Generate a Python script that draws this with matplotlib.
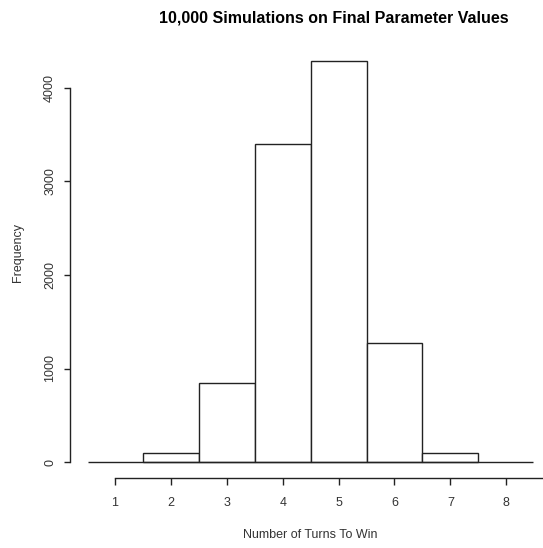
import matplotlib
matplotlib.use("Agg")
import matplotlib.pyplot as plt

turns = [2, 3, 4, 5, 6, 7]
freq = [100, 840, 3400, 4290, 1275, 95]
xticks = [1, 2, 3, 4, 5, 6, 7, 8]
yticks = [0, 1000, 2000, 3000, 4000]

plt.rcParams['font.family'] = ['Liberation Sans', 'DejaVu Sans']
W, H = 543, 548
fig = plt.figure(figsize=(W / 100, H / 100), dpi=100)
ax = fig.add_axes([70 / W, (H - 478) / H, 473 / W, 438 / H])

ax.bar(turns, freq, width=1.0, facecolor='white', edgecolor='#222222', linewidth=1.0, zorder=3)
ax.hlines(0, 0.517, 8.48, color='#222222', linewidth=1.0, zorder=4)

ax.set_xlim(0.195, 8.657)
ax.set_ylim(-171, 4513)
for s in ['top', 'right']:
    ax.spines[s].set_visible(False)
ax.spines['left'].set_bounds(0, 4000)
ax.spines['bottom'].set_bounds(1, 8.657)
for s in ['left', 'bottom']:
    ax.spines[s].set_color('#222222')
    ax.spines[s].set_linewidth(1.0)

ax.set_xticks(xticks)
ax.set_xticklabels([str(t) for t in xticks])
ax.set_yticks(yticks)
ax.set_yticklabels([str(t) for t in yticks], rotation=90, va='center')
ax.tick_params(axis='x', length=5, width=1.0, color='#222222', pad=9, labelsize=9, labelcolor='#333333')
ax.tick_params(axis='y', length=4, width=1.0, color='#222222', pad=6, labelsize=9, labelcolor='#333333')

fig.text(310 / W, 1 - 535 / H, 'Number of Turns To Win', ha='center', va='center', fontsize=9, color='#333333')
fig.text(18 / W, 1 - 252 / H, 'Frequency', ha='center', va='center', rotation=90, fontsize=9, color='#333333')
fig.text(334 / W, 1 - 18 / H, '10,000 Simulations on Final Parameter Values', ha='center', va='center',
         fontsize=11.5, fontweight='bold', color='black')

fig.savefig('out.png', dpi=100, facecolor='white')
